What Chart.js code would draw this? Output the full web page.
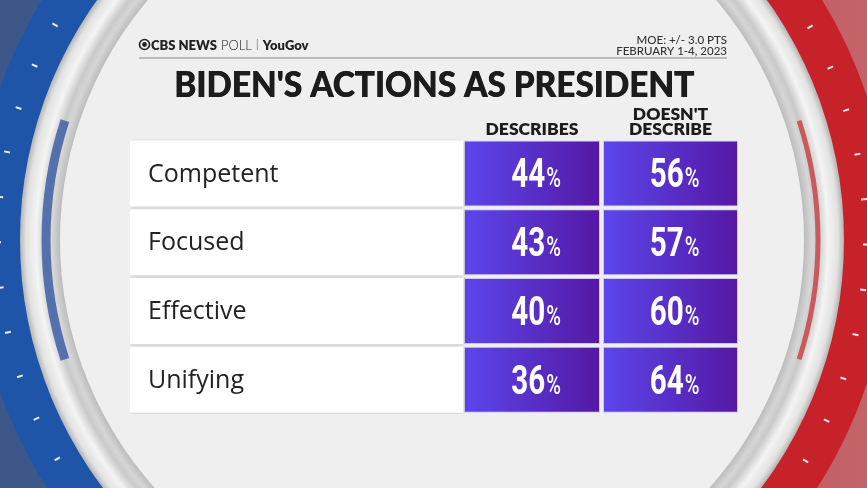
<!DOCTYPE html>
<html>
<head>
<meta charset="utf-8">
<script src="https://cdn.jsdelivr.net/npm/chart.js@4/dist/chart.umd.min.js"></script>
<style>
  body { margin: 0; background: #efefef; }
  #wrap { width: 867px; height: 488px; }
</style>
</head>
<body>
<div id="wrap"><canvas id="poll-chart" width="867" height="488"></canvas></div>
<script>
const categories = ['Competent', 'Focused', 'Effective', 'Unifying'];
const describes = [44, 43, 40, 36];
const doesntDescribe = [56, 57, 60, 64];
const columnLabels = [['DESCRIBES'], ["DOESN'T", 'DESCRIBE']];
const chartTitle = "BIDEN'S ACTIONS AS PRESIDENT";
const sourceText = ['CBS NEWS', 'POLL', 'YouGov'];
const noteLines = ['MOE: +/- 3.0 PTS', 'FEBRUARY 1-4, 2023'];

// table columns on the x scale (layout only)
const labelCol = [0, 333];
const describesCol = [334, 470];
const doesntCol = [473, 608];

const CX = 432, CY = 240;

function purpleFill(context, col) {
    const chart = context.chart;
    if (!chart.chartArea) return '#5431c8';
    const x = chart.scales.x;
    const g = chart.ctx.createLinearGradient(x.getPixelForValue(col[0]), 0, x.getPixelForValue(col[1]), 0);
    g.addColorStop(0, '#5b46ec');
    g.addColorStop(1, '#5518a4');
    return g;
}

const ringBackground = {
    id: 'ringBackground',
    beforeDraw(chart) {
        const { ctx, width, height } = chart;
        ctx.save();
        // outside the ring
        let g = ctx.createLinearGradient(0, 0, width, 0);
        g.addColorStop(0, '#3d5789');
        g.addColorStop(0.5, '#3d5789');
        g.addColorStop(0.5, '#bd4a50');
        g.addColorStop(1, '#c46468');
        ctx.fillStyle = g;
        ctx.fillRect(0, 0, width, height);

        // coloured ring
        g = ctx.createLinearGradient(0, 0, width, 0);
        g.addColorStop(0, '#1f55a9');
        g.addColorStop(0.5, '#1f55a9');
        g.addColorStop(0.5, '#c7222a');
        g.addColorStop(1, '#c7222a');
        ctx.beginPath();
        ctx.arc(CX, CY, 458, 0, Math.PI * 2);
        ctx.fillStyle = g;
        ctx.fill();

        // tick dashes
        ctx.strokeStyle = 'rgba(255,255,255,0.9)';
        ctx.lineWidth = 2;
        for (let k = -6; k < 12; k++) {
            [209.7 - 6 * k, -29.4 + 6 * k].forEach(deg => {
                const a = deg * Math.PI / 180;
                ctx.beginPath();
                ctx.moveTo(CX + 431 * Math.cos(a), CY + 431 * Math.sin(a));
                ctx.lineTo(CX + 437 * Math.cos(a), CY + 437 * Math.sin(a));
                ctx.stroke();
            });
        }

        // silver ring
        const rg = ctx.createRadialGradient(CX, CY, 372, CX, CY, 412);
        rg.addColorStop(0, '#bcbcbc');
        rg.addColorStop(0.2, '#d6d6d6');
        rg.addColorStop(0.35, '#c9c9c9');
        rg.addColorStop(0.6, '#f4f4f4');
        rg.addColorStop(0.85, '#e2e2e2');
        rg.addColorStop(1, '#b5b5b5');
        ctx.beginPath();
        ctx.arc(CX, CY, 412, 0, Math.PI * 2);
        ctx.fillStyle = rg;
        ctx.fill();

        // coloured stripes inside the silver ring
        ctx.lineWidth = 9;
        ctx.strokeStyle = 'rgba(62,96,165,0.85)';
        ctx.beginPath();
        ctx.arc(CX, CY, 386, Math.PI * (162 / 180), Math.PI * (198 / 180));
        ctx.stroke();
        ctx.lineWidth = 5;
        ctx.strokeStyle = 'rgba(200,60,66,0.8)';
        ctx.beginPath();
        ctx.arc(CX, CY, 386, -Math.PI * (18 / 180), Math.PI * (18 / 180));
        ctx.stroke();

        // inner panel
        ctx.beginPath();
        ctx.arc(CX, CY, 372, 0, Math.PI * 2);
        ctx.fillStyle = '#efefef';
        ctx.fill();
        ctx.restore();
    }
};

// draws text squeezed horizontally, for the condensed look of the numbers
function narrowText(ctx, text, x, y, squeeze) {
    ctx.save();
    ctx.translate(x, y);
    ctx.scale(squeeze, 1);
    ctx.fillText(text, 0, 0);
    ctx.restore();
}

const tableText = {
    id: 'tableText',
    beforeDatasetDraw(chart, args) {
        if (args.index === 0) {
            const ctx = chart.ctx;
            ctx.save();
            ctx.shadowColor = 'rgba(0,0,0,0.13)';
            ctx.shadowBlur = 6;
            ctx.shadowOffsetY = 2;
        }
    },
    afterDatasetDraw(chart, args) {
        if (args.index === 0) chart.ctx.restore();
    },
    afterDatasetsDraw(chart) {
        const ctx = chart.ctx;
        ctx.save();
        ctx.textBaseline = 'alphabetic';

        // header
        ctx.fillStyle = '#222';
        let x = 139;
        ctx.lineWidth = 1.6;
        ctx.strokeStyle = '#222';
        ctx.beginPath();
        ctx.arc(x + 5.5, 44.5, 5, 0, Math.PI * 2);
        ctx.stroke();
        ctx.beginPath();
        ctx.arc(x + 5.5, 44.5, 2.4, 0, Math.PI * 2);
        ctx.fill();
        x += 12;
        ctx.textAlign = 'left';
        ctx.font = '800 13px Lato';
        ctx.fillText(sourceText[0], x, 49.5);
        x += ctx.measureText(sourceText[0]).width + 4;
        ctx.font = '300 13px Lato';
        ctx.fillText(sourceText[1], x, 49.5);
        x += ctx.measureText(sourceText[1]).width + 5;
        ctx.fillStyle = '#999';
        ctx.fillRect(x, 39, 1, 11);
        x += 6;
        ctx.fillStyle = '#222';
        ctx.font = '800 13px Lato';
        ctx.fillText(sourceText[2], x, 49.5);

        ctx.textAlign = 'right';
        ctx.font = '500 11.5px Lato';
        ctx.fillStyle = '#333';
        ctx.fillText(noteLines[0], 727, 44);
        ctx.fillText(noteLines[1], 727, 55);

        ctx.fillStyle = '#8a8a8a';
        ctx.fillRect(139, 57.5, 588, 1);

        // title, stretched to its width in the graphic
        ctx.font = '900 36px Lato';
        ctx.fillStyle = '#1c1c1c';
        ctx.textAlign = 'center';
        const tw = ctx.measureText(chartTitle).width;
        narrowText(ctx, chartTitle, 434, 97, 520 / tw);
        // a second pass, shifted by a hair, to thicken the strokes
        narrowText(ctx, chartTitle, 434.6, 97, 520 / tw);

        const metaLabels = chart.getDatasetMeta(0);
        const metas = [chart.getDatasetMeta(1), chart.getDatasetMeta(2)];
        const values = [describes, doesntDescribe];

        // column headers
        ctx.font = '800 17.5px Lato';
        ctx.fillStyle = '#1c1c1c';
        metas.forEach((meta, c) => {
            const el = meta.data[0];
            const cx = (el.x + el.base) / 2;
            const lines = columnLabels[c];
            lines.forEach((line, i) => {
                ctx.fillText(line, cx, 135 - (lines.length - 1 - i) * 15.5);
            });
        });

        // row labels
        ctx.textAlign = 'left';
        ctx.textBaseline = 'middle';
        ctx.font = '500 25px "Open Sans"';
        ctx.fillStyle = '#222';
        metaLabels.data.forEach((el, i) => {
            ctx.fillText(categories[i], el.base + 18, el.y + 1);
        });

        // values
        ctx.textBaseline = 'alphabetic';
        ctx.textAlign = 'left';
        ctx.fillStyle = '#fff';
        const sq = 0.74;
        metas.forEach((meta, c) => {
            meta.data.forEach((el, i) => {
                const num = String(values[c][i]);
                ctx.font = 'bold 40px Roboto';
                const nw = ctx.measureText(num).width * sq;
                ctx.font = '500 27px Roboto';
                const pw = ctx.measureText('%').width * sq;
                const left = (el.x + el.base) / 2 + 4 - (nw + pw + 1) / 2;
                const base = el.y + 14;
                ctx.font = 'bold 40px Roboto';
                narrowText(ctx, num, left, base, sq);
                ctx.font = '500 27px Roboto';
                narrowText(ctx, '%', left + nw + 1, base, sq);
            });
        });
        ctx.restore();
    }
};

new Chart(document.getElementById('poll-chart').getContext('2d'), {
    type: 'bar',
    data: {
        labels: categories,
        datasets: [
            {
                label: 'Trait',
                data: categories.map(() => labelCol),
                backgroundColor: '#ffffff',
                borderWidth: 0,
                grouped: false
            },
            {
                label: 'Describes',
                data: describes.map(() => describesCol),
                backgroundColor: ctx => purpleFill(ctx, describesCol),
                borderColor: '#cfc8ea',
                borderWidth: 1,
                borderSkipped: false,
                grouped: false
            },
            {
                label: "Doesn't describe",
                data: doesntDescribe.map(() => doesntCol),
                backgroundColor: ctx => purpleFill(ctx, doesntCol),
                borderColor: '#cfc8ea',
                borderWidth: 1,
                borderSkipped: false,
                grouped: false
            }
        ]
    },
    options: {
        indexAxis: 'y',
        responsive: false,
        animation: false,
        layout: { padding: { left: 130, right: 129, top: 139, bottom: 74 } },
        datasets: { bar: { barPercentage: 0.96, categoryPercentage: 1 } },
        scales: {
            x: { display: false, min: 0, max: 608 },
            y: { display: false }
        },
        plugins: {
            legend: { display: false },
            tooltip: { enabled: false }
        }
    },
    plugins: [ringBackground, tableText]
});
</script>
</body>
</html>
